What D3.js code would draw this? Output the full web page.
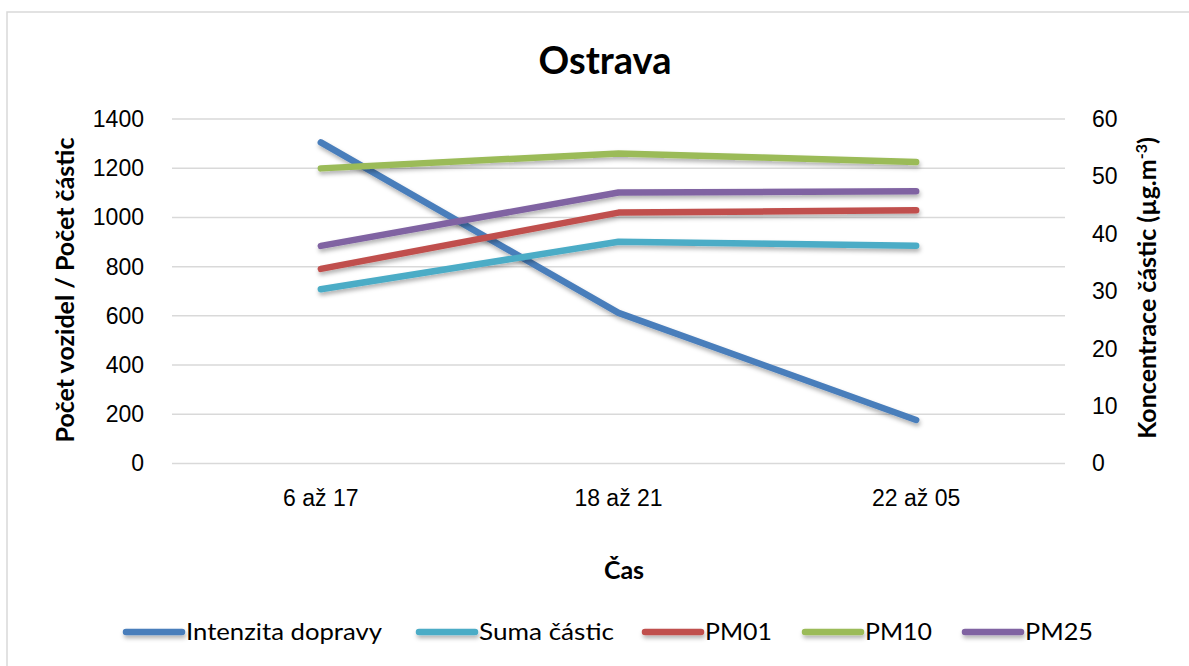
<!DOCTYPE html>
<html>
<head>
<meta charset="utf-8">
<script src="https://cdn.jsdelivr.net/npm/d3@7"></script>
<style>
  body { margin: 0; background: #fff; }
  svg { display: block; font-family: Lato, "Open Sans", sans-serif; }
  .grid line { stroke: #d9d9d9; stroke-width: 1.5; }
  .axis text { font-size: 23px; fill: #000; }
</style>
</head>
<body>
<script>
// categories and series values
var categories = ["6 až 17", "18 až 21", "22 až 05"];
var intenzita = [1305, 612, 177];      // left axis
var suma = [708, 901, 885];            // left axis
var pm01 = [33.9, 43.7, 44.1];         // right axis
var pm10 = [51.4, 54.0, 52.5];         // right axis
var pm25 = [37.9, 47.2, 47.4];         // right axis
var leftTicks = [0, 200, 400, 600, 800, 1000, 1200, 1400];
var rightTicks = [0, 10, 20, 30, 40, 50, 60];

var series = [
  {name: "Intenzita dopravy", values: intenzita, axis: "left", color: "#4a7ebb"},
  {name: "Suma částic", values: suma, axis: "left", color: "#4bacc6"},
  {name: "PM01", values: pm01, axis: "right", color: "#c0504d"},
  {name: "PM10", values: pm10, axis: "right", color: "#9bbb59"},
  {name: "PM25", values: pm25, axis: "right", color: "#8064a2"}
];

var width = 1189, height = 666;
var margin = {top: 119, right: 124, bottom: 202.5, left: 172};
var plot_w = width - margin.left - margin.right;
var plot_h = height - margin.top - margin.bottom;

var svg = d3.select("body").append("svg")
  .attr("width", width)
  .attr("height", height);

// drop shadow like the office chart
var defs = svg.append("defs");
defs.append("filter").attr("id", "shadow")
  .attr("filterUnits", "userSpaceOnUse")
  .attr("x", -50).attr("y", -50).attr("width", width + 100).attr("height", height + 100)
  .append("feDropShadow")
  .attr("dx", 1).attr("dy", 3).attr("stdDeviation", 2)
  .attr("flood-color", "#000").attr("flood-opacity", 0.3);

// chart border
svg.append("rect")
  .attr("x", 7).attr("y", 12)
  .attr("width", width + 10).attr("height", height + 10)
  .attr("fill", "none").attr("stroke", "#d9d9d9").attr("stroke-width", 1.5);

var g = svg.append("g")
  .attr("transform", "translate(" + margin.left + "," + margin.top + ")");

var xScale = d3.scaleBand().domain(categories).range([0, plot_w]);
var yLeft = d3.scaleLinear().domain([0, 1400]).range([plot_h, 0]);
var yRight = d3.scaleLinear().domain([0, 60]).range([plot_h, 0]);

// gridlines
g.append("g").attr("class", "grid")
  .selectAll("line").data(leftTicks).enter().append("line")
  .attr("x1", 0).attr("x2", plot_w)
  .attr("y1", function(d) { return yLeft(d); })
  .attr("y2", function(d) { return yLeft(d); });

// axes
g.append("g").attr("class", "axis")
  .call(d3.axisLeft(yLeft).tickValues(leftTicks).tickFormat(d3.format("d")).tickSize(0).tickPadding(28));
g.append("g").attr("class", "axis")
  .attr("transform", "translate(" + plot_w + ",0)")
  .call(d3.axisRight(yRight).tickValues(rightTicks).tickFormat(d3.format("d")).tickSize(0).tickPadding(27));
g.append("g").attr("class", "axis")
  .attr("transform", "translate(0," + plot_h + ")")
  .call(d3.axisBottom(xScale).tickSize(0).tickPadding(26));
g.selectAll(".axis .domain").remove();

// lines
series.forEach(function(s) {
  var yS = s.axis == "left" ? yLeft : yRight;
  var line = d3.line()
    .x(function(d, i) { return xScale(categories[i]) + xScale.bandwidth() / 2; })
    .y(function(d) { return yS(d); });
  g.append("path")
    .datum(s.values)
    .attr("d", line)
    .attr("fill", "none")
    .attr("stroke", s.color)
    .attr("stroke-width", 6.5)
    .attr("stroke-linecap", "round")
    .attr("stroke-linejoin", "round")
    .attr("filter", "url(#shadow)");
});

// title
svg.append("text")
  .attr("x", 605).attr("y", 74)
  .attr("text-anchor", "middle")
  .style("font-size", "38px").style("font-weight", "bold")
  .text("Ostrava");

// axis titles
svg.append("text")
  .attr("transform", "translate(74,290) rotate(-90)")
  .attr("text-anchor", "middle")
  .style("font-size", "25px").style("font-weight", "bold")
  .text("Počet vozidel / Počet částic");

var rt = svg.append("text")
  .attr("transform", "translate(1156,288) rotate(-90)")
  .attr("text-anchor", "middle")
  .style("font-size", "25px").style("font-weight", "bold");
rt.append("tspan").text("Koncentrace částic (µg.m");
rt.append("tspan").attr("dy", -9).style("font-size", "16px").text("-3");
rt.append("tspan").attr("dy", 9).text(")");

svg.append("text")
  .attr("x", 624).attr("y", 579)
  .attr("text-anchor", "middle")
  .style("font-size", "25px").style("font-weight", "bold")
  .text("Čas");

// legend
var legendX = [126, 419, 645, 805, 965];
var legendTextW = [196, 135, 67, 67, 68];
var legend = svg.append("g").selectAll("g").data(series).enter().append("g")
  .attr("transform", function(d, i) { return "translate(" + legendX[i] + ",632)"; });
legend.append("line")
  .attr("x1", 0).attr("x2", 56).attr("y1", 0).attr("y2", 0)
  .attr("stroke", function(d) { return d.color; })
  .attr("stroke-width", 6.5)
  .attr("stroke-linecap", "round")
  .attr("filter", "url(#shadow)");
legend.append("text")
  .attr("x", 60).attr("y", 8)
  .attr("textLength", function(d, i) { return legendTextW[i]; })
  .attr("lengthAdjust", "spacingAndGlyphs")
  .style("font-size", "24px")
  .text(function(d) { return d.name; });
</script>
</body>
</html>
